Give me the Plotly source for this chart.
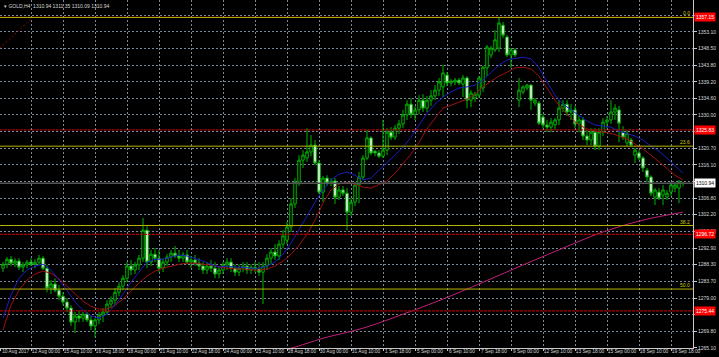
import plotly.graph_objects as go

# ---------------- data ----------------
opens = [1287.3, 1288.4, 1289.8, 1288.7, 1289.3, 1287.6, 1288.2, 1289.0, 1288.4, 1289.0,
         1290.1, 1287.3, 1281.8, 1282.9, 1281.2, 1279.5, 1277.9, 1276.2, 1272.3, 1274.0,
         1273.4, 1274.5, 1272.9, 1271.2, 1272.9, 1274.2, 1275.1, 1277.3, 1278.4, 1280.6,
         1282.3, 1284.5, 1287.9, 1286.8, 1288.2, 1290.1, 1297.9, 1289.0, 1291.2, 1290.1,
         1287.3, 1289.0, 1290.4, 1291.5, 1290.7, 1290.1, 1291.0, 1289.0, 1289.6, 1288.7,
         1287.9, 1286.8, 1287.9, 1287.3, 1285.7, 1286.8, 1288.2, 1289.0, 1287.3, 1286.2,
         1287.3, 1287.9, 1286.8, 1287.6, 1287.1, 1286.2, 1287.9, 1290.1, 1291.8, 1290.7,
         1294.0, 1295.1, 1298.8, 1305.2, 1311.3, 1317.4, 1318.0, 1319.7, 1321.6, 1316.6,
         1308.5, 1312.4, 1311.0, 1311.6, 1307.1, 1309.1, 1308.2, 1302.9, 1305.7, 1310.5,
         1312.7, 1318.0, 1323.6, 1319.9, 1319.4, 1318.5, 1320.2, 1325.2, 1323.8, 1326.3,
         1327.5, 1330.0, 1333.0, 1330.2, 1331.4, 1334.1, 1331.9, 1334.1, 1335.3, 1336.9,
         1337.8, 1341.1, 1338.9, 1339.2, 1339.7, 1338.6, 1340.3, 1334.1, 1334.7, 1335.5,
         1337.5, 1343.1, 1346.7, 1348.1, 1348.6, 1355.0, 1351.7, 1346.7, 1348.1, 1334.1,
         1336.4, 1337.5, 1338.3, 1333.3, 1333.3, 1329.4, 1327.2, 1326.6, 1327.2, 1328.6,
         1331.9, 1333.0, 1330.8, 1331.4, 1327.5, 1328.6, 1324.1, 1323.0, 1325.2, 1321.3,
         1325.2, 1328.0, 1328.6, 1330.8, 1331.4, 1325.2, 1322.2, 1323.0, 1318.8, 1319.4,
         1318.0, 1314.6, 1312.7, 1307.1, 1308.5, 1307.7, 1307.1, 1308.5, 1309.6, 1309.6,
         1310.94]
highs = [1289.0, 1290.4, 1290.7, 1290.1, 1290.1, 1289.0, 1289.6, 1290.1, 1289.8, 1291.0,
         1290.7, 1288.2, 1284.0, 1284.5, 1282.6, 1280.6, 1279.0, 1277.0, 1275.1, 1275.6,
         1275.1, 1275.1, 1274.0, 1273.4, 1275.1, 1276.2, 1278.4, 1279.5, 1281.8, 1283.4,
         1285.4, 1289.0, 1289.6, 1289.0, 1291.0, 1301.3, 1299.0, 1292.4, 1292.9, 1292.4,
         1290.1, 1291.2, 1292.4, 1293.5, 1292.4, 1291.8, 1292.4, 1290.7, 1291.0, 1290.1,
         1289.0, 1289.0, 1289.6, 1289.0, 1287.9, 1289.0, 1290.1, 1290.1, 1288.4, 1288.4,
         1289.0, 1289.0, 1288.4, 1289.0, 1289.0, 1289.0, 1291.2, 1292.9, 1294.0, 1295.1,
         1297.9, 1300.2, 1306.8, 1312.4, 1318.8, 1320.2, 1326.3, 1324.4, 1323.0, 1317.4,
         1313.0, 1313.2, 1312.4, 1312.4, 1310.2, 1310.2, 1309.6, 1306.8, 1311.3, 1314.1,
         1318.8, 1325.8, 1324.1, 1320.2, 1320.2, 1328.6, 1326.3, 1326.6, 1327.2, 1328.6,
         1331.4, 1334.1, 1334.7, 1332.5, 1335.5, 1335.8, 1335.3, 1336.9, 1338.3, 1340.3,
         1343.9, 1341.9, 1340.0, 1340.3, 1340.3, 1341.1, 1340.8, 1336.9, 1336.4, 1340.8,
         1343.6, 1349.5, 1349.2, 1353.6, 1357.15, 1355.9, 1352.2, 1348.6, 1348.6, 1340.3,
         1338.3, 1338.6, 1338.6, 1334.7, 1333.9, 1330.2, 1328.6, 1329.1, 1329.1, 1334.1,
         1334.1, 1334.1, 1333.0, 1332.5, 1329.7, 1329.4, 1325.8, 1326.3, 1326.3, 1326.3,
         1329.1, 1329.7, 1334.1, 1333.0, 1332.5, 1326.9, 1325.8, 1323.6, 1320.8, 1320.2,
         1318.5, 1315.2, 1313.2, 1309.6, 1309.6, 1310.5, 1309.1, 1311.3, 1311.3, 1311.9,
         1311.35]
lows = [1286.2, 1287.3, 1287.9, 1287.6, 1286.8, 1286.2, 1287.3, 1287.9, 1287.3, 1288.2,
        1286.8, 1280.6, 1280.1, 1280.6, 1278.4, 1277.0, 1275.1, 1271.2, 1269.2, 1272.3,
        1272.3, 1272.3, 1270.1, 1268.1, 1271.7, 1272.3, 1274.2, 1276.2, 1277.0, 1279.5,
        1281.2, 1283.4, 1285.4, 1285.7, 1286.8, 1289.0, 1287.3, 1287.9, 1289.0, 1286.2,
        1286.2, 1287.9, 1289.0, 1290.1, 1289.0, 1289.0, 1288.4, 1287.3, 1287.9, 1286.8,
        1285.7, 1285.7, 1286.2, 1284.5, 1284.5, 1285.7, 1286.8, 1286.2, 1285.1, 1285.1,
        1286.2, 1285.7, 1285.7, 1286.2, 1285.1, 1277.3, 1286.8, 1288.4, 1289.6, 1289.6,
        1292.9, 1294.0, 1297.4, 1304.1, 1310.2, 1315.2, 1316.9, 1318.5, 1316.0, 1308.0,
        1305.7, 1310.2, 1310.2, 1305.2, 1306.3, 1307.4, 1297.9, 1301.8, 1304.6, 1305.4,
        1311.9, 1317.4, 1318.8, 1318.5, 1318.0, 1318.0, 1318.8, 1323.0, 1323.0, 1324.7,
        1326.3, 1328.6, 1329.1, 1328.6, 1330.2, 1330.8, 1330.8, 1332.5, 1334.1, 1335.3,
        1335.0, 1338.0, 1338.0, 1338.3, 1338.3, 1335.0, 1331.9, 1332.2, 1333.6, 1334.7,
        1336.4, 1340.8, 1345.8, 1347.5, 1347.5, 1351.4, 1346.1, 1343.1, 1346.1, 1332.2,
        1335.8, 1336.9, 1331.4, 1332.5, 1327.2, 1326.3, 1325.2, 1325.2, 1325.8, 1327.2,
        1330.8, 1329.7, 1328.6, 1326.3, 1325.2, 1323.0, 1321.6, 1321.6, 1320.2, 1320.2,
        1324.1, 1326.3, 1327.5, 1328.6, 1322.4, 1323.0, 1321.3, 1321.3, 1316.6, 1317.4,
        1314.1, 1311.3, 1307.4, 1304.9, 1306.3, 1304.9, 1306.3, 1307.4, 1308.5, 1305.4,
        1310.09]
closes = [1288.4, 1289.8, 1288.7, 1289.3, 1287.6, 1288.2, 1289.0, 1288.4, 1289.0, 1290.1,
          1287.3, 1281.8, 1282.9, 1281.2, 1279.5, 1277.9, 1276.2, 1272.3, 1274.0, 1273.4,
          1274.5, 1272.9, 1271.2, 1272.9, 1274.2, 1275.1, 1277.3, 1278.4, 1280.6, 1282.3,
          1284.5, 1287.9, 1286.8, 1288.2, 1290.1, 1297.9, 1289.0, 1291.2, 1290.1, 1287.3,
          1289.0, 1290.4, 1291.5, 1290.7, 1290.1, 1291.0, 1289.0, 1289.6, 1288.7, 1287.9,
          1286.8, 1287.9, 1287.3, 1285.7, 1286.8, 1288.2, 1289.0, 1287.3, 1286.2, 1287.3,
          1287.9, 1286.8, 1287.6, 1287.1, 1286.2, 1287.9, 1290.1, 1291.8, 1290.7, 1294.0,
          1296.3, 1298.8, 1305.2, 1311.3, 1317.4, 1318.8, 1319.7, 1321.6, 1316.6, 1308.5,
          1312.4, 1311.0, 1311.6, 1307.1, 1309.1, 1308.2, 1302.9, 1305.7, 1310.5, 1312.7,
          1318.0, 1323.6, 1319.4, 1319.4, 1318.5, 1320.2, 1325.2, 1323.8, 1326.3, 1327.5,
          1330.0, 1333.0, 1330.2, 1331.4, 1334.1, 1331.9, 1334.1, 1335.3, 1336.9, 1339.2,
          1341.7, 1338.9, 1339.4, 1339.7, 1338.9, 1340.3, 1334.1, 1336.1, 1335.8, 1340.3,
          1343.3, 1348.9, 1348.6, 1350.9, 1355.6, 1352.2, 1346.7, 1348.1, 1346.7, 1336.9,
          1337.8, 1338.3, 1334.1, 1334.1, 1327.7, 1327.2, 1326.6, 1328.0, 1328.6, 1331.9,
          1333.0, 1330.8, 1331.4, 1327.5, 1328.6, 1324.1, 1323.0, 1325.2, 1321.3, 1325.2,
          1328.0, 1328.6, 1330.8, 1331.9, 1327.7, 1323.8, 1324.9, 1321.6, 1320.2, 1318.0,
          1315.2, 1312.7, 1308.2, 1309.1, 1306.8, 1309.1, 1308.2, 1310.5, 1310.5, 1311.3,
          1310.94]
bars = list(range(len(opens)))

ma_idx = list(range(0, 171, 2))
ma_blue = [1273.4, 1279.8, 1284.5, 1286.8, 1287.9, 1288.4, 1286.8, 1284.0, 1281.2, 1277.9,
           1275.6, 1274.0, 1273.4, 1274.5, 1277.0, 1280.1, 1283.4, 1286.2, 1289.0, 1289.8,
           1289.8, 1290.4, 1291.0, 1290.7, 1290.1, 1289.3, 1288.4, 1287.6, 1287.9, 1287.6,
           1287.6, 1287.3, 1287.3, 1287.9, 1289.0, 1291.2, 1294.3, 1297.9, 1301.8, 1305.7,
           1309.1, 1311.9, 1313.5, 1314.1, 1313.2, 1311.9, 1312.4, 1314.6, 1316.6, 1318.8,
           1321.0, 1323.8, 1327.2, 1330.5, 1333.0, 1335.0, 1336.4, 1337.5, 1337.8, 1338.3,
           1339.7, 1341.9, 1343.9, 1345.3, 1345.8, 1346.1, 1345.6, 1343.1, 1339.2, 1335.5,
           1333.0, 1331.4, 1329.7, 1328.3, 1327.2, 1326.9, 1326.6, 1325.5, 1324.9, 1324.1,
           1323.0, 1321.3, 1319.9, 1318.0, 1315.8, 1313.8]
ma_red = [1270.1, 1277.0, 1281.2, 1284.0, 1285.7, 1286.5, 1285.9, 1284.3, 1282.3, 1280.1,
          1278.1, 1276.7, 1275.9, 1275.9, 1277.0, 1278.7, 1280.9, 1283.2, 1285.1, 1286.5,
          1287.3, 1287.9, 1288.4, 1288.7, 1288.7, 1288.4, 1288.2, 1287.6, 1287.3, 1287.1,
          1287.1, 1286.8, 1286.8, 1287.1, 1287.9, 1289.3, 1291.2, 1293.7, 1296.8, 1300.7,
          1305.4, 1309.1, 1310.7, 1311.3, 1310.7, 1309.9, 1309.6, 1310.5, 1311.6, 1313.8,
          1316.3, 1319.1, 1322.4, 1326.1, 1329.1, 1331.9, 1332.7, 1333.6, 1334.4, 1335.8,
          1337.8, 1339.4, 1340.8, 1341.9, 1343.1, 1343.3, 1342.8, 1340.8, 1337.5, 1334.1,
          1331.4, 1329.1, 1327.2, 1326.1, 1325.5, 1325.2, 1324.9, 1324.1, 1323.3, 1321.9,
          1320.5, 1318.8, 1316.9, 1314.9, 1313.2, 1311.9]
ma_long_idx = [68, 72, 80, 90, 100, 110, 120, 130, 140, 150, 160, 170]
ma_long = [1264.5, 1265.05, 1267.8, 1270.6, 1274.5, 1278.7, 1283.4, 1288.2, 1292.9, 1297.4, 1300.7, 1302.9]

trend_idx = [-0.75, 7.25]
trend_val = [1348.6, 1357.0]

x_tick_bars = [-0.6, 7, 15, 23, 31, 39, 47, 55, 63, 71, 79, 87, 95, 103, 111, 119, 127, 135, 143, 151, 159, 167]
x_tick_text = ["10 Aug 2017", "12 Aug 00:00", "15 Aug 10:00", "16 Aug 18:00", "18 Aug 00:00",
               "21 Aug 10:00", "22 Aug 18:00", "24 Aug 00:00", "25 Aug 10:00", "28 Aug 18:00",
               "30 Aug 00:00", "31 Aug 10:00", "1 Sep 18:00", "5 Sep 00:00", "6 Sep 10:00",
               "7 Sep 18:00", "9 Sep 00:00", "12 Sep 10:00", "13 Sep 18:00", "15 Sep 00:00",
               "18 Sep 10:00", "19 Sep 18:00"]
y_ticks = [1357.70, 1353.10, 1348.50, 1343.80, 1339.20, 1334.60, 1330.00, 1325.40, 1320.70,
           1316.10, 1311.50, 1306.80, 1302.20, 1297.50, 1292.90, 1288.30, 1283.70, 1279.00,
           1274.40, 1269.80, 1265.10]
# tick labels hidden behind the price boxes on the scale
y_ticks_covered = [1357.70, 1325.40, 1311.50, 1274.40]

fib_levels = [1357.15, 1321.3, 1299.2, 1281.5]
fib_text = ["0.0", "23.6", "38.2", "50.0"]
red_levels = [1357.15, 1325.83, 1296.72, 1275.44]
last_price = 1310.94
title_text = "GOLD,H4  1310.94 1311.35 1310.09 1310.94"

# ---------------- figure ----------------
GREEN = "#00b400"
FONT = "Liberation Sans"
TXT = "#d8d8d8"

fig = go.Figure()
fig.add_trace(go.Candlestick(
    x=bars, open=opens, high=highs, low=lows, close=closes,
    increasing=dict(line=dict(color=GREEN, width=1), fillcolor="black"),
    decreasing=dict(line=dict(color=GREEN, width=1), fillcolor="white"),
    whiskerwidth=0, hoverinfo="skip"))
fig.add_trace(go.Scatter(x=ma_idx, y=ma_red, mode="lines",
                         line=dict(color="#a01010", width=1), hoverinfo="skip"))
fig.add_trace(go.Scatter(x=ma_idx, y=ma_blue, mode="lines",
                         line=dict(color="#1c1cc0", width=1), hoverinfo="skip"))
fig.add_trace(go.Scatter(x=ma_long_idx, y=ma_long, mode="lines",
                         line=dict(color="#c0207a", width=1, shape="spline"), hoverinfo="skip"))
fig.add_trace(go.Scatter(x=trend_idx, y=trend_val, mode="lines",
                         line=dict(color="#8b0000", width=1, dash="2px,2px"), hoverinfo="skip"))

shapes = []
for v in red_levels:
    shapes.append(dict(type="line", xref="paper", x0=0, x1=1, yref="y", y0=v, y1=v,
                       line=dict(color="#b00000", width=1.3, dash="3px,1px")))
shapes.append(dict(type="line", xref="paper", x0=0, x1=1, yref="y", y0=last_price, y1=last_price,
                   line=dict(color="#555555", width=1.5)))
for v in fib_levels:
    shapes.append(dict(type="line", xref="paper", x0=0, x1=1, yref="y", y0=v, y1=v,
                       line=dict(color="#b4b400", width=1)))

annotations = []
for v, t in zip(fib_levels, fib_text):
    annotations.append(dict(xref="paper", x=1, yref="y", y=v, xanchor="right", yanchor="bottom",
                            text=t, showarrow=False, xshift=-1, yshift=-1,
                            font=dict(family=FONT, size=5, color="#d0d000")))
for v in red_levels:
    annotations.append(dict(xref="paper", x=1, yref="y", y=v, xanchor="left", yanchor="middle",
                            text=f"{v:.2f}", showarrow=False, bgcolor="#ff0000", borderpad=1,
                            xshift=1, font=dict(family=FONT, size=5, color="white")))
annotations.append(dict(xref="paper", x=1, yref="y", y=last_price, xanchor="left", yanchor="middle",
                        text=f"{last_price:.2f}", showarrow=False, bgcolor="white", borderpad=1,
                        xshift=1, font=dict(family=FONT, size=5, color="black")))
annotations.append(dict(xref="paper", x=0, yref="paper", y=1, xanchor="left", yanchor="top",
                        text="▾ " + title_text, showarrow=False, xshift=2, yshift=-1,
                        font=dict(family=FONT, size=5, color=TXT)))

fig.update_layout(
    width=719, height=357, margin=dict(l=0, r=26, t=0, b=9, autoexpand=False),
    paper_bgcolor="black", plot_bgcolor="black", showlegend=False, boxgap=0.12,
    shapes=shapes, annotations=annotations,
    xaxis=dict(range=[-0.75, 172.5], tickmode="array", tickvals=x_tick_bars, ticktext=x_tick_text,
               showgrid=True, gridcolor="#778899", griddash="2px,2px", gridwidth=1,
               zeroline=False, showline=True, linecolor="#c8c8c8", linewidth=1,
               ticks="outside", ticklen=2, tickcolor="#c8c8c8", ticklabelshift=15,
               ticklabelstandoff=-4, tickangle=0, automargin=False,
               tickfont=dict(family=FONT, size=4.8, color=TXT), rangeslider=dict(visible=False),
               fixedrange=True),
    yaxis=dict(side="right", range=[1265.08, 1362.01], tickmode="array", tickvals=y_ticks,
               ticktext=["" if v in y_ticks_covered else f"{v:.2f}" for v in y_ticks],
               automargin=False,
               showgrid=True, gridcolor="#778899", griddash="2px,2px", gridwidth=1,
               zeroline=False, showline=True, linecolor="#c8c8c8", linewidth=1,
               ticks="outside", ticklen=3, tickcolor="#c8c8c8",
               tickfont=dict(family=FONT, size=5, color=TXT), fixedrange=True),
)

fig.write_html("out.html", config={"displayModeBar": False},
               post_script="document.body.style.margin='0';document.body.style.overflow='hidden';")
